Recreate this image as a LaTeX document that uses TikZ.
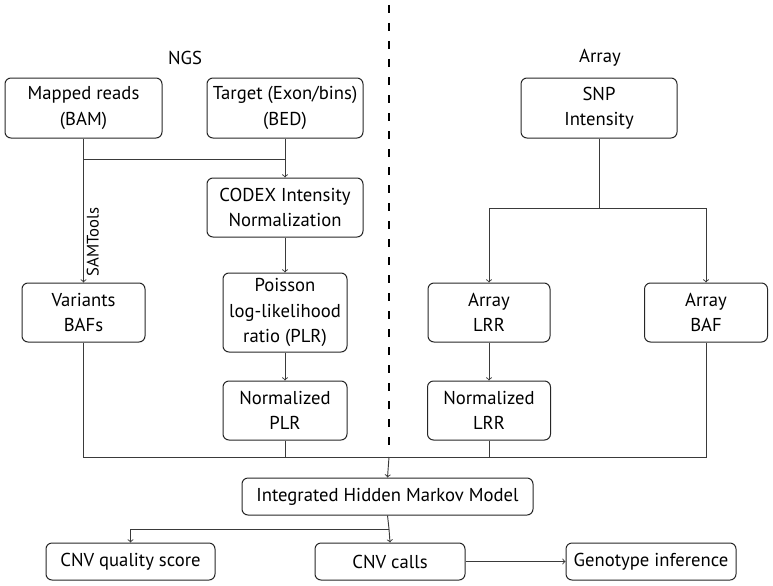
\documentclass[tikz,border=0pt]{standalone}
\usepackage{fontspec}
\setmainfont{PT Sans}
\usepackage{tikz}
\usetikzlibrary{arrows}
\definecolor{boxline}{HTML}{262626}
\definecolor{flowline}{HTML}{3A3A3A}

\begin{document}
\begin{tikzpicture}[x=0.75pt, y=-0.75pt]
    \tikzstyle{every node}=[font=\fontsize{14}{19}\selectfont];
    \tikzstyle{box}=[draw=boxline, line width=0.75pt, rounded corners=4.5pt, align=center, inner sep=0pt, minimum height=44.25pt];
    \tikzstyle{flow}=[draw=flowline, line width=0.7pt, >=to];
    \useasboundingbox (0,0) rectangle (773,585);

    % headings and separator
    \node (ngs) at (185,58) {NGS};
    \node (array) at (600,58) {Array};
    \coordinate (septop) at (389,5);
    \coordinate (sepbot) at (389,447);
    \draw[black, line width=1.5pt, dash pattern=on 6pt off 7.5pt] (septop) -- (sepbot);

    % NGS side
    \node[box, minimum width=117.75pt, minimum height=45pt] (bam) at (83.5,108) {Mapped reads\\(BAM)};
    \node[box, minimum width=117pt, minimum height=45pt] (bed) at (285,108) {Target (Exon/bins)\\(BED)};
    \node[box, minimum width=117pt] (codex) at (285,207.5) {CODEX Intensity\\Normalization};
    \node[box, minimum width=93pt, minimum height=59.25pt] (plr) at (285,312.5) {Poisson\\log-likelihood\\ratio (PLR)};
    \node[box, minimum width=93pt] (nplr) at (285,410.5) {Normalized\\PLR};
    \node[box, minimum width=92.25pt] (vbaf) at (83.5,312.5) {Variants\\BAFs};

    % Array side
    \node[box, minimum width=117pt, minimum height=45pt] (snp) at (599,108) {SNP\\Intensity};
    \node[box, minimum width=91.5pt] (lrr) at (489,312.5) {Array\\LRR};
    \node[box, minimum width=92.25pt] (abaf) at (706,312.5) {Array\\BAF};
    \node[box, minimum width=92.25pt] (nlrr) at (489,410.5) {Normalized\\LRR};

    % model and outputs
    \node[box, minimum width=218.25pt, minimum height=27.75pt] (hmm) at (387.5,496.5) {Integrated Hidden Markov Model};
    \node[box, minimum width=126.75pt, minimum height=27.75pt] (qual) at (130.5,561.5) {CNV quality score};
    \node[box, minimum width=112.5pt, minimum height=27.75pt] (calls) at (390,561.5) {CNV calls};
    \node[box, minimum width=127.5pt, minimum height=27.75pt] (geno) at (651,561.5) {Genotype inference};

    % junctions
    \coordinate (jbam) at (83.5,159);
    \coordinate (jbed) at (285,159);
    \coordinate (jsnp) at (599,208);
    \coordinate (jlrr) at (489,208);
    \coordinate (jabaf) at (706,208);
    \coordinate (jleft) at (83.5,457);
    \coordinate (jplr) at (285,457);
    \coordinate (jmid) at (389,457);
    \coordinate (jlrr2) at (489,457);
    \coordinate (jright) at (706,457);
    \coordinate (jout) at (389,529);
    \coordinate (jqual) at (130.5,529);

    % NGS connectors
    \draw[flow] (bed.south) -- (jbed);
    \draw[flow] (jbam) -- (jbed);
    \draw[flow, ->] (jbed) -- (codex.north);
    \draw[flow, ->] (bam.south) -- node[pos=0.72, rotate=90, anchor=north, inner sep=2pt, font=\fontsize{12.5}{14}\selectfont] (samtools) {SAMTools} (vbaf.north);
    \draw[flow, ->] (codex.south) -- (plr.north);
    \draw[flow, ->] (plr.south) -- (nplr.north);

    % Array connectors
    \draw[flow] (snp.south) -- (jsnp);
    \draw[flow] (jlrr) -- (jabaf);
    \draw[flow, ->] (jlrr) -- (lrr.north);
    \draw[flow, ->] (jabaf) -- (abaf.north);
    \draw[flow, ->] (lrr.south) -- (nlrr.north);

    % merge into the model
    \draw[flow] (vbaf.south) -- (jleft) -- (jright) -- (abaf.south);
    \draw[flow] (nplr.south) -- (jplr);
    \draw[flow] (nlrr.south) -- (jlrr2);
    \draw[flow, ->] (jmid) -- (hmm.north);

    % outputs
    \draw[flow] (hmm.south) -- (jout);
    \draw[flow] (jqual) -- (jout);
    \draw[flow, ->] (jqual) -- (qual.north);
    \draw[flow, ->] (jout) -- (calls.north);
    \draw[flow, ->] (calls.east) -- (geno.west);
\end{tikzpicture}
\end{document}
